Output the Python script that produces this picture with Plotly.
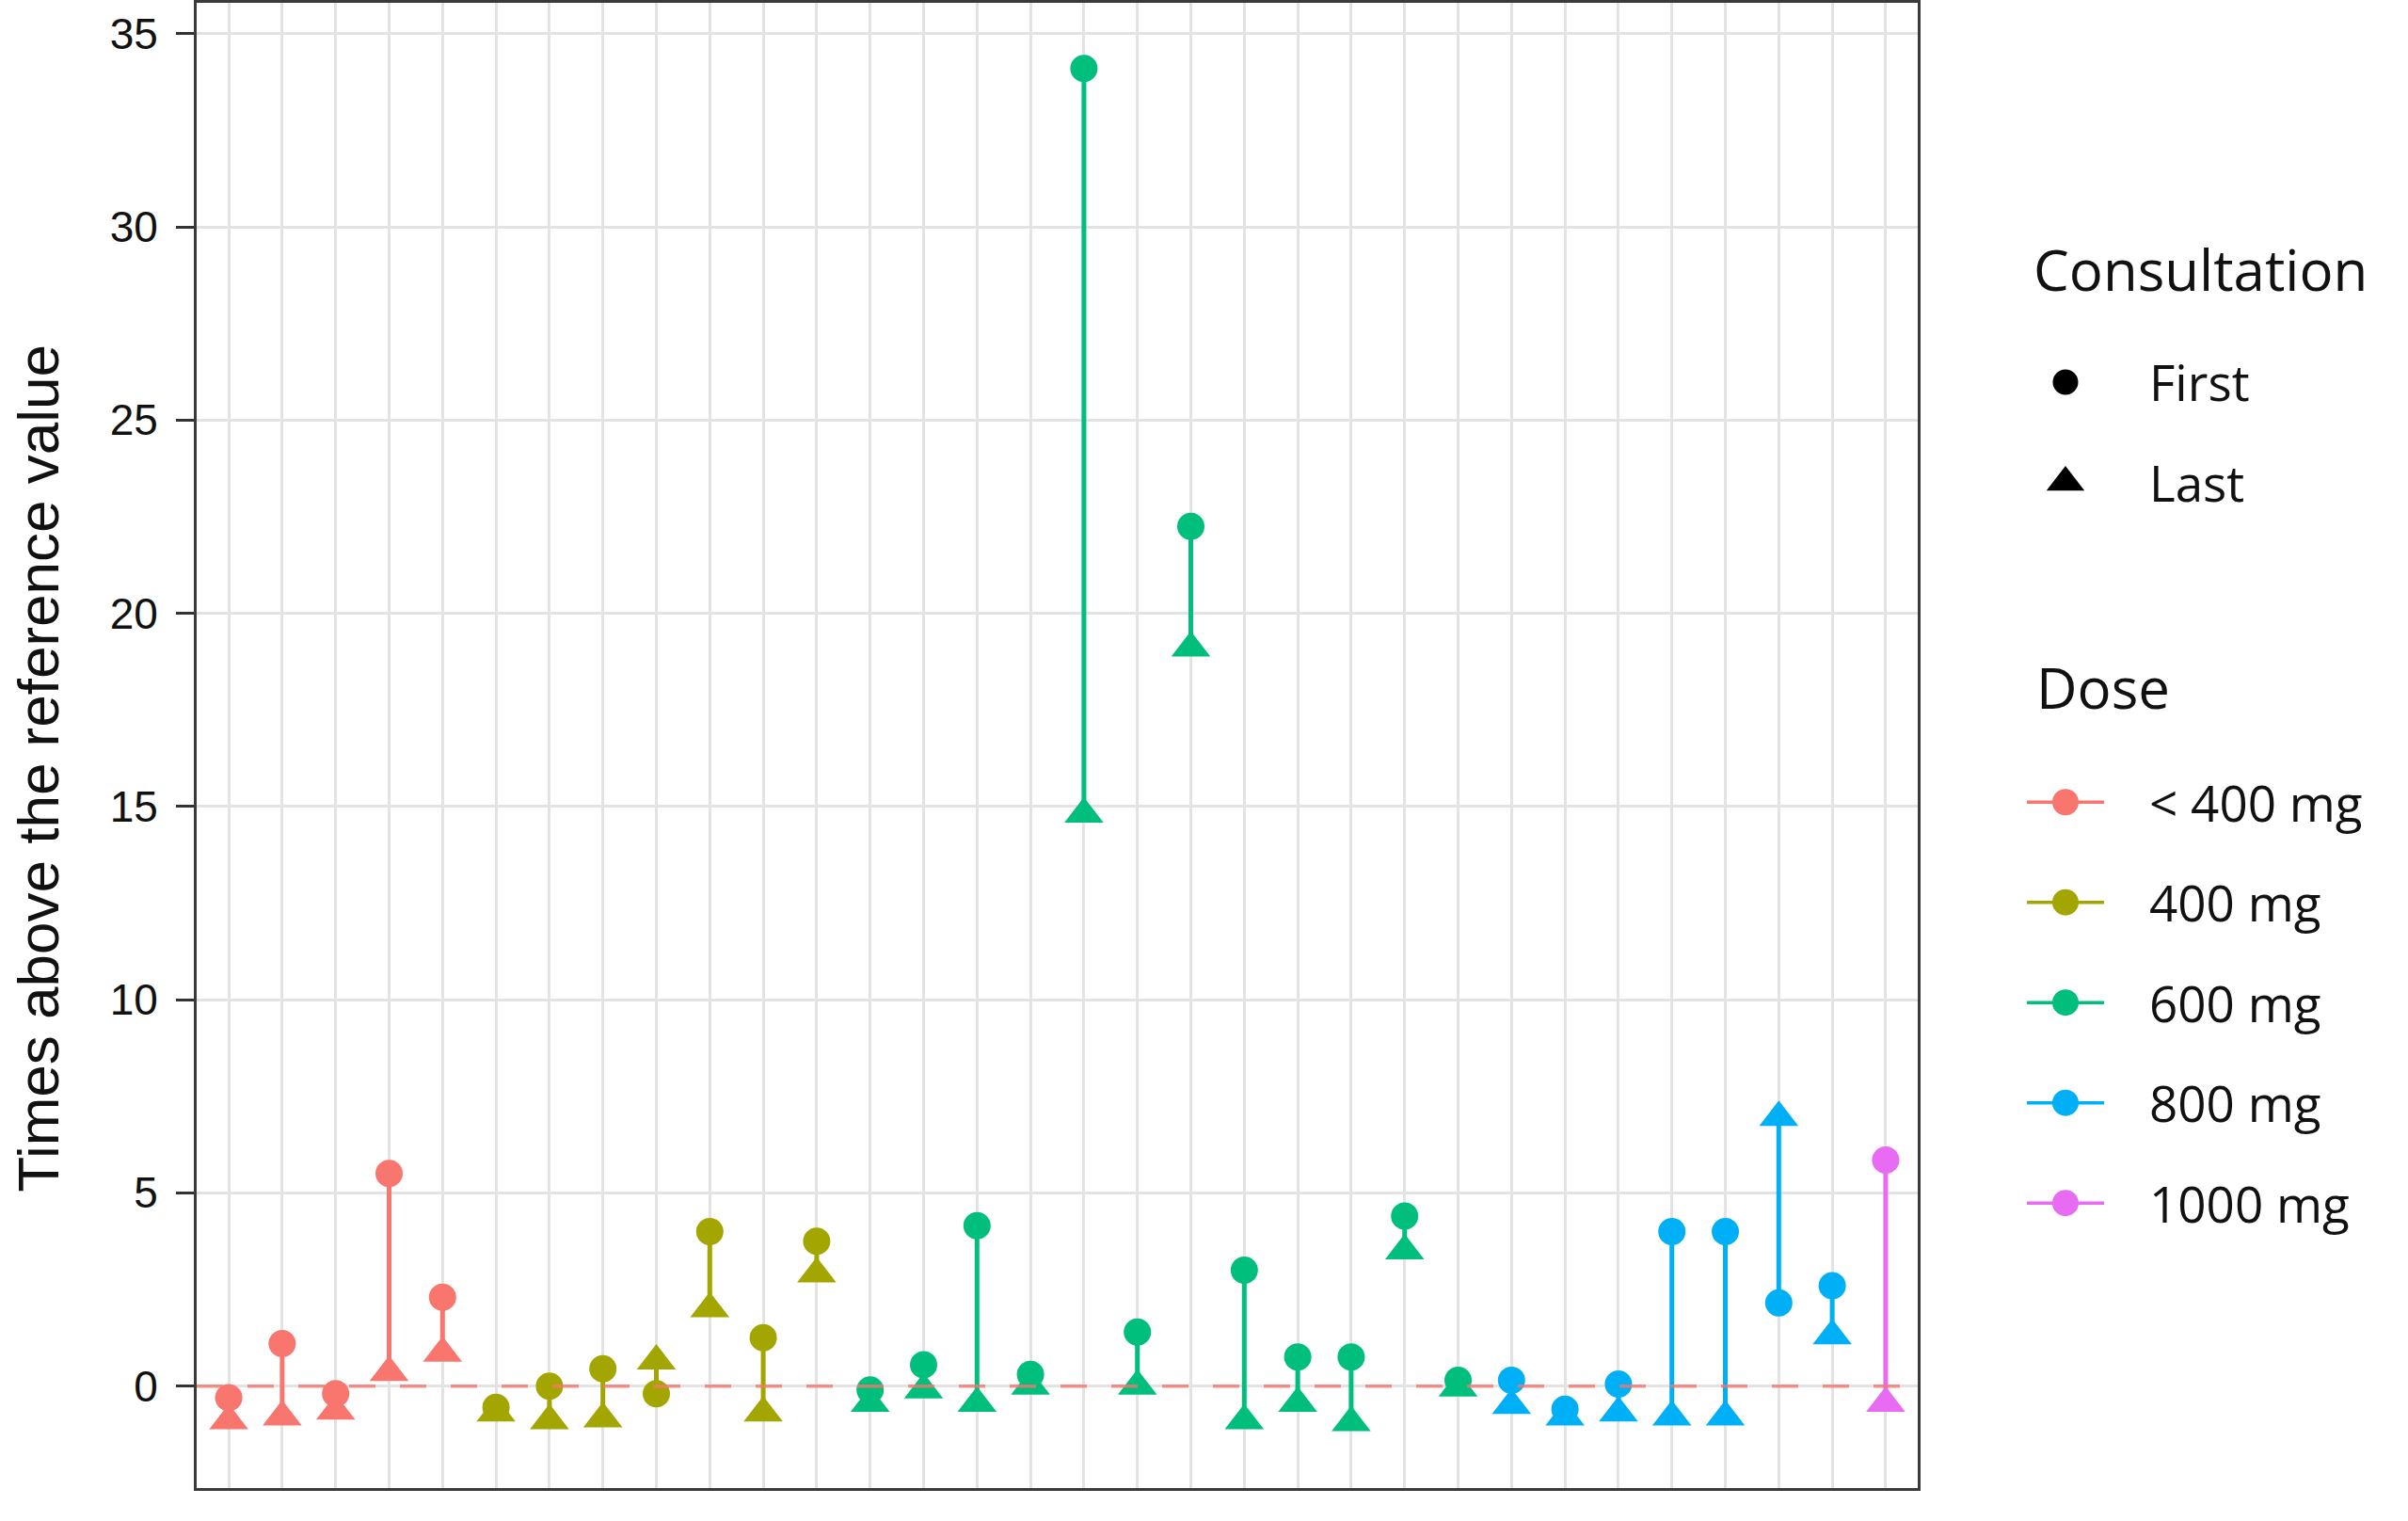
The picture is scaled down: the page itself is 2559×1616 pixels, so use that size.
import plotly.graph_objects as go

# patients (x categories, no labels shown)
patients = ["1", "2", "3", "4", "5", "6", "7", "8", "9", "10", "11", "12", "13", "14", "15", "16",
            "17", "18", "19", "20", "21", "22", "23", "24", "25", "26", "27", "28", "29", "30", "31", "32"]

dose = ["< 400 mg", "< 400 mg", "< 400 mg", "< 400 mg", "< 400 mg",
        "400 mg", "400 mg", "400 mg", "400 mg", "400 mg", "400 mg", "400 mg",
        "600 mg", "600 mg", "600 mg", "600 mg", "600 mg", "600 mg", "600 mg", "600 mg",
        "600 mg", "600 mg", "600 mg", "600 mg",
        "800 mg", "800 mg", "800 mg", "800 mg", "800 mg", "800 mg", "800 mg",
        "1000 mg"]

first_consult = [-0.3, 1.1, -0.2, 5.5, 2.3, -0.55, 0.0, 0.45, -0.2, 4.0, 1.25, 3.75,
                 -0.1, 0.55, 4.15, 0.3, 34.1, 1.4, 22.25, 3.0, 0.75, 0.75, 4.4, 0.15,
                 0.15, -0.6, 0.05, 4.0, 4.0, 2.15, 2.6, 5.85]

last_consult = [-0.9, -0.8, -0.65, 0.35, 0.85, -0.7, -0.9, -0.85, 0.65, 2.0, -0.7, 2.9,
                -0.45, -0.1, -0.45, 0.0, 14.8, 0.0, 19.1, -0.9, -0.45, -0.95, 3.5, -0.05,
                -0.5, -0.8, -0.7, -0.8, -0.8, 6.95, 1.3, -0.45]

dose_levels = ["< 400 mg", "400 mg", "600 mg", "800 mg", "1000 mg"]
dose_colors = ["#F8766D", "#A3A500", "#00BF7D", "#00B0F6", "#E76BF3"]
consultations = ["First", "Last"]
y_ticks = [0, 5, 10, 15, 20, 25, 30, 35]
y_title = "Times above the reference value"

FONT = "Liberation Sans, Arial, sans-serif"
LEG_FONT = "Open Sans, sans-serif"
CIRCLE = 29
TRIANGLE = 36

fig = go.Figure()

for level, color in zip(dose_levels, dose_colors):
    idx = [i for i, d in enumerate(dose) if d == level]
    seg_x, seg_y = [], []
    for i in idx:
        seg_x += [patients[i], patients[i], None]
        seg_y += [first_consult[i], last_consult[i], None]
    # segment between first and last consultation
    fig.add_trace(go.Scatter(x=seg_x, y=seg_y, mode="lines",
                             line=dict(color=color, width=5), hoverinfo="skip"))
    fig.add_trace(go.Scatter(x=[patients[i] for i in idx], y=[first_consult[i] for i in idx],
                             mode="markers", name=level,
                             marker=dict(symbol="circle", size=CIRCLE, color=color, opacity=1,
                                         line=dict(width=0))))
    fig.add_trace(go.Scatter(x=[patients[i] for i in idx], y=[last_consult[i] for i in idx],
                             mode="markers", name=level,
                             marker=dict(symbol="triangle-up", size=TRIANGLE, color=color, opacity=1,
                                         line=dict(width=0))))

# reference value line
fig.add_shape(type="line", xref="x domain", x0=0, x1=1, yref="y", y0=0, y1=0,
              line=dict(color="rgba(248,118,109,0.8)", width=3.5, dash="28px,26px"),
              layer="above")

# ---- legend keys drawn on a hidden helper axis ----
consult_rows = [0, 1]
dose_rows = [4.19 + i for i in range(len(dose_levels))]
fig.add_trace(go.Scatter(x=[0], y=[consult_rows[0]], mode="markers", xaxis="x2", yaxis="y2",
                         marker=dict(symbol="circle", size=27, color="black", opacity=1),
                         hoverinfo="skip"))
fig.add_trace(go.Scatter(x=[0], y=[consult_rows[1]], mode="markers", xaxis="x2", yaxis="y2",
                         marker=dict(symbol="triangle-up", size=35, color="black", opacity=1),
                         hoverinfo="skip"))
for row, color in zip(dose_rows, dose_colors):
    fig.add_trace(go.Scatter(x=[-0.5, 0.5], y=[row, row], mode="lines",
                             xaxis="x2", yaxis="y2",
                             line=dict(color=color, width=3.5), hoverinfo="skip"))
    fig.add_trace(go.Scatter(x=[0], y=[row], mode="markers", xaxis="x2", yaxis="y2",
                             marker=dict(size=28, color=color, opacity=1), hoverinfo="skip"))

annotations = [
    # y axis title, placed slightly below the axis centre like the original
    dict(text=y_title, x=-0.0715, y=0.485, xref="paper", yref="paper", textangle=-90,
         xanchor="center", yanchor="middle", showarrow=False,
         font=dict(family=FONT, size=62, color="#111111")),
    dict(text="Consultation", x=-0.44, y=-1.13, xref="x2", yref="y2", xanchor="left",
         yanchor="middle", showarrow=False, font=dict(family=LEG_FONT, size=60, color="#111111")),
    dict(text="Dose", x=-0.40, y=3.04, xref="x2", yref="y2", xanchor="left",
         yanchor="middle", showarrow=False, font=dict(family=LEG_FONT, size=60, color="#111111")),
]
for label, row in zip(consultations, consult_rows):
    annotations.append(dict(text=label, x=1.06, y=row, xref="x2", yref="y2", xanchor="left",
                            yanchor="middle", showarrow=False,
                            font=dict(family=LEG_FONT, size=53, color="#111111")))
for label, row in zip(dose_levels, dose_rows):
    annotations.append(dict(text=label.replace("<", "&lt;"), x=1.06, y=row, xref="x2", yref="y2",
                            xanchor="left", yanchor="middle", showarrow=False,
                            font=dict(family=LEG_FONT, size=53, color="#111111")))

fig.update_layout(
    width=2559, height=1616,
    margin=dict(l=209, r=0, t=3, b=35),
    plot_bgcolor="white", paper_bgcolor="white",
    showlegend=False,
    annotations=annotations,
    xaxis=dict(domain=[0, 0.7783], type="category", categoryorder="array",
               categoryarray=patients, range=[-0.6, 31.6],
               showgrid=True, gridcolor="#E3E3E3", gridwidth=3,
               showticklabels=False, ticks="", zeroline=False,
               showline=True, linecolor="#3a3a3a", linewidth=3, mirror=True),
    yaxis=dict(range=[-2.64, 35.8], tickvals=y_ticks,
               showgrid=True, gridcolor="#E3E3E3", gridwidth=3, zeroline=False,
               ticks="outside", ticklen=19, tickwidth=3, tickcolor="#333333",
               ticklabelstandoff=10,
               tickfont=dict(family=FONT, size=46, color="#111111"),
               showline=True, linecolor="#3a3a3a", linewidth=3, mirror=True),
    xaxis2=dict(domain=[0.79, 1.0], range=[-1.579, 4.439], visible=False, anchor="y2"),
    yaxis2=dict(domain=[0, 1], range=[11.033, -3.784], visible=False, anchor="x2"),
)

fig.write_html("out.html", config={"displayModeBar": False},
               post_script="document.body.style.margin='0';document.body.style.overflow='hidden';")
